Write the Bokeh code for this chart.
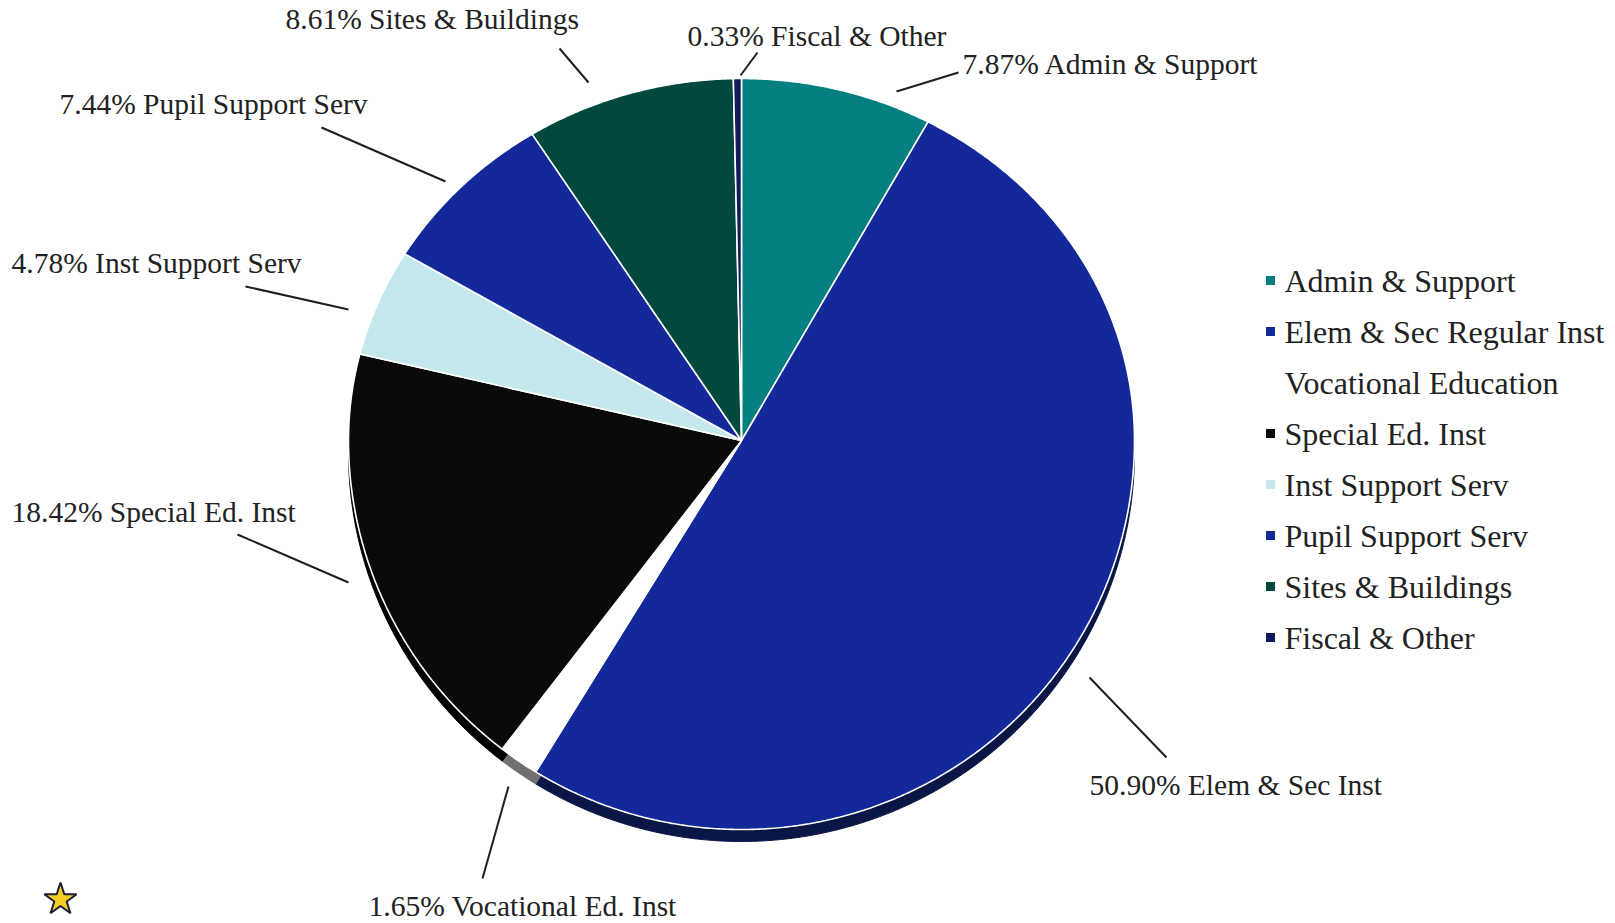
import numpy as np
from bokeh.plotting import figure
from bokeh.models import Range1d
from bokeh.embed import file_html
from bokeh.resources import INLINE
from bokeh.core.properties import value

# ---------------- data ----------------
categories = ["Admin & Support", "Elem & Sec Inst", "Vocational Ed. Inst", "Special Ed. Inst",
              "Inst Support Serv", "Pupil Support Serv", "Sites & Buildings", "Fiscal & Other"]
legend_names = ["Admin & Support", "Elem & Sec Regular Inst", "Vocational Education", "Special Ed. Inst",
                "Inst Support Serv", "Pupil Support Serv", "Sites & Buildings", "Fiscal & Other"]
percents = [7.87, 50.90, 1.65, 18.42, 4.78, 7.44, 8.61, 0.33]

# ---------------- styles / layout ----------------
colors = ["#067f80", "#13299a", "#ffffff", "#0a0a0a", "#c4e8ee", "#13299a", "#01493f", "#0f1b5c"]
side_colors = ["#045a5a", "#0a1646", "#707070", "#000000", "#9cc4c8", "#0a1646", "#01302a", "#0a1240"]
legend_colors = ["#067f80", "#13299a", "#ffffff", "#0a0a0a", "#c4e8ee", "#13299a", "#01493f", "#0f1b5c"]

W, H = 1615, 923
CX, CY, RX, RY_TOP, RY_BOT, DEPTH = 741, 440, 393, 362, 389, 12

label_x = [962, 1089, 368, 11, 11, 59, 285, 687]
label_y = [63, 784, 905, 511, 262, 103, 18, 35]
lead_x0 = [958, 1089, 508, 237, 245, 321, 559, 757]
lead_y0 = [72, 677, 786, 534, 286, 127, 48, 52]
lead_x1 = [896, 1166, 482, 348, 348, 445, 588, 740]
lead_y1 = [91, 757, 878, 582, 309, 181, 82, 75]

LEG_MX, LEG_TX, LEG_Y0, LEG_DY = 1270, 1284, 280, 51

FONT = "Liberation Serif"
TXT = "#222222"

p = figure(width=W, height=H, x_range=Range1d(0, W), y_range=Range1d(H, 0),
           output_backend="svg", toolbar_location=None,
           x_axis_location=None, y_axis_location=None, min_border=0)
p.grid.visible = False
p.outline_line_color = None
p.background_fill_color = "white"

# slice polygons computed from the percentages (tilted pie: upper half flatter)
cum = np.concatenate([[0.0], np.cumsum(percents)])
top_xs, top_ys, side_xs, side_ys = [], [], [], []
for i in range(len(percents)):
    t0 = cum[i] / 100.0 * 2 * np.pi
    t1 = cum[i + 1] / 100.0 * 2 * np.pi
    n = max(4, int((t1 - t0) * 140))
    ts = np.linspace(t0, t1, n)
    c = np.cos(ts)
    ry = np.where(c >= 0, RY_TOP, RY_BOT)
    xs = np.concatenate([[CX], CX + RX * np.sin(ts)])
    ys = np.concatenate([[CY], CY - ry * c])
    top_xs.append(list(xs))
    top_ys.append(list(ys))
    side_xs.append(list(xs))
    side_ys.append(list(ys + DEPTH))

p.patches(side_xs, side_ys, fill_color=side_colors, line_color=side_colors, line_width=1)
p.patches(top_xs, top_ys, fill_color=colors, line_color="white", line_width=1.6)

# leader lines
p.segment(lead_x0, lead_y0, lead_x1, lead_y1, line_color="#1e1e1e", line_width=2)

# data labels
labels = [f"{v:.2f}% {c}" for v, c in zip(percents, categories)]
p.text(label_x, label_y, text=labels, text_font=value(FONT), text_font_size="29.5px",
       text_baseline="middle", text_align="left", text_color=TXT)

# legend
n = len(legend_names)
leg_y = [LEG_Y0 + LEG_DY * i for i in range(n)]
p.scatter([LEG_MX] * n, leg_y, marker="square", size=9, fill_color=legend_colors,
          line_color=None)
p.text([LEG_TX] * n, leg_y, text=legend_names, text_font=value(FONT), text_font_size="32px",
       text_baseline="middle", text_align="left", text_color=TXT)

# decorative star
p.scatter([60], [899], marker="star", size=34, fill_color="#f4cf1f", line_color="#1c1c3c",
          line_width=2)

open("out.html", "w").write(file_html(p, INLINE))
